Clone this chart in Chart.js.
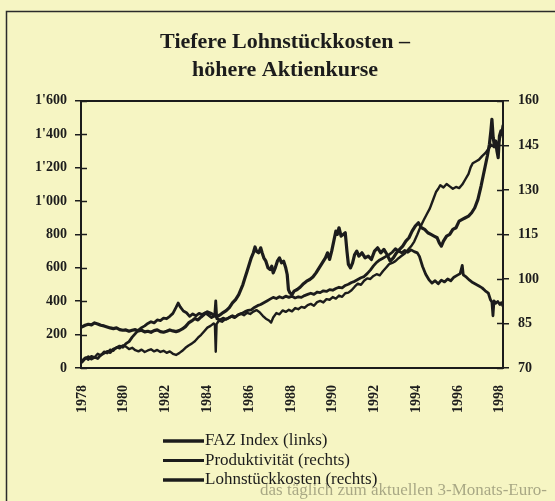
<!DOCTYPE html>
<html>
<head>
<meta charset="utf-8">
<script src="https://cdn.jsdelivr.net/npm/chart.js@4.4.1/dist/chart.umd.min.js"></script>
<style>
  html, body { margin: 0; padding: 0; background: #f6f5c3; }
  #wrap { width: 555px; height: 501px; }
</style>
</head>
<body>
<div id="wrap"><canvas id="myChart" width="555" height="501"></canvas></div>
<script>
// values (decimal years)
const yearTicks = [1978, 1980, 1982, 1984, 1986, 1988, 1990, 1992, 1994, 1996, 1998]

const fazYears = [1978.0, 1978.15, 1978.3, 1978.45, 1978.6, 1978.75, 1978.9, 1979.05, 1979.2, 1979.35, 1979.5, 1979.65, 1979.8, 1979.95,
  1980.1, 1980.25, 1980.4, 1980.55, 1980.7, 1980.85, 1981.0, 1981.15, 1981.3, 1981.45, 1981.6, 1981.75, 1981.9,
  1982.05, 1982.2, 1982.35, 1982.5, 1982.65, 1982.8, 1982.95, 1983.1, 1983.25, 1983.4, 1983.55, 1983.7, 1983.85,
  1984.0, 1984.15, 1984.3, 1984.45, 1984.6, 1984.75, 1984.9, 1985.05, 1985.2, 1985.35, 1985.5, 1985.6, 1985.7, 1985.8, 1985.9,
  1986.0, 1986.1, 1986.2, 1986.28, 1986.35, 1986.45, 1986.55, 1986.62, 1986.7, 1986.8, 1986.9,
  1987.0, 1987.08, 1987.15, 1987.25, 1987.35, 1987.45, 1987.55, 1987.65, 1987.75, 1987.82, 1987.88, 1987.95,
  1988.05, 1988.15, 1988.3, 1988.45, 1988.6, 1988.75, 1988.9, 1989.05, 1989.2, 1989.35, 1989.5, 1989.65, 1989.75, 1989.85, 1989.95,
  1990.05, 1990.15, 1990.22, 1990.3, 1990.4, 1990.5, 1990.6, 1990.68, 1990.75, 1990.85, 1990.95,
  1991.05, 1991.15, 1991.25, 1991.4, 1991.55, 1991.7, 1991.85, 1992.0, 1992.15, 1992.3, 1992.45, 1992.6, 1992.75, 1992.9,
  1993.05, 1993.2, 1993.35, 1993.5, 1993.65, 1993.8, 1993.95, 1994.1, 1994.25, 1994.4, 1994.55, 1994.7, 1994.85,
  1995.0, 1995.1, 1995.2, 1995.3, 1995.45, 1995.6, 1995.75, 1995.9, 1996.05, 1996.2, 1996.35, 1996.5, 1996.65, 1996.8, 1996.95,
  1997.1, 1997.2, 1997.3, 1997.4, 1997.5, 1997.57, 1997.62, 1997.68, 1997.74, 1997.8, 1997.86, 1997.92, 1997.98, 1998.05, 1998.1, 1998.15]
const fazValues = [246, 256, 262, 258, 270, 264, 256, 252, 246, 240, 236, 240, 230, 226,
  228, 220, 226, 230, 222, 226, 216, 220, 214, 224, 228, 218, 214,
  220, 228, 222, 218, 224, 234, 248, 270, 282, 296, 288, 306, 322,
  336, 328, 318, 306, 318, 332, 344, 362, 390, 410, 440, 470, 500, 540, 580,
  620, 660, 690, 725, 700, 690, 720, 690, 660, 640, 600,
  590, 610, 570, 600, 640, 660, 630, 640, 600, 560, 470, 450,
  440, 460, 470, 485, 505, 520, 530, 545, 570, 600, 630, 660, 690, 650, 700,
  760, 820, 800, 840, 790, 800, 810, 700, 620, 600, 630,
  680, 700, 670, 690, 660, 670, 650, 700, 720, 690, 710, 680, 640, 660,
  690, 710, 730, 760, 780, 820, 850, 870, 840, 830, 810, 800, 790,
  780, 750, 730, 760, 790, 800, 830, 840, 880, 890, 900, 910, 930, 960, 1010,
  1090, 1150, 1210, 1270, 1340, 1420, 1490, 1380, 1330, 1360, 1300, 1260, 1390, 1420, 1400, 1450]

const prodYears = [1978.0, 1978.15, 1978.3, 1978.45, 1978.6, 1978.75, 1978.9, 1979.05, 1979.2, 1979.35, 1979.5, 1979.65, 1979.8, 1979.95,
  1980.1, 1980.25, 1980.4, 1980.55, 1980.7, 1980.85, 1981.0, 1981.15, 1981.3, 1981.45, 1981.6, 1981.75, 1981.9,
  1982.05, 1982.2, 1982.35, 1982.5, 1982.65, 1982.8, 1982.95, 1983.1, 1983.25, 1983.4, 1983.55, 1983.7, 1983.85,
  1984.0, 1984.15, 1984.3, 1984.36, 1984.4, 1984.44, 1984.55, 1984.7, 1984.85, 1985.0, 1985.15, 1985.3, 1985.45, 1985.6, 1985.75, 1985.9,
  1986.05, 1986.2, 1986.35, 1986.5, 1986.65, 1986.8, 1986.95, 1987.05, 1987.15, 1987.3, 1987.45, 1987.6, 1987.75, 1987.9,
  1988.05, 1988.2, 1988.35, 1988.5, 1988.65, 1988.8, 1988.95, 1989.1, 1989.25, 1989.4, 1989.55, 1989.7, 1989.85,
  1990.0, 1990.15, 1990.3, 1990.45, 1990.6, 1990.75, 1990.9, 1991.05, 1991.2, 1991.35, 1991.5, 1991.65, 1991.8, 1991.95,
  1992.1, 1992.25, 1992.4, 1992.55, 1992.7, 1992.85, 1993.0, 1993.15, 1993.3, 1993.45, 1993.6, 1993.75, 1993.9,
  1994.05, 1994.2, 1994.35, 1994.5, 1994.65, 1994.8, 1994.95, 1995.05, 1995.15, 1995.3, 1995.45, 1995.6, 1995.75, 1995.9,
  1996.05, 1996.2, 1996.35, 1996.5, 1996.6, 1996.7, 1996.85, 1997.0, 1997.15, 1997.3, 1997.45, 1997.6, 1997.72, 1997.85, 1997.95, 1998.05, 1998.15]
const prodValues = [72.5, 73.5, 72.8, 74.0, 73.6, 74.8, 74.2, 75.5, 75.0, 76.2, 75.8, 77.0, 76.6, 77.6,
  77.2, 76.4, 76.8, 76.0, 75.6, 76.2, 75.4, 75.9, 76.3, 75.6, 76.1, 75.4, 75.8,
  75.1, 75.6, 74.8, 74.4, 75.0, 75.8, 76.8, 77.6, 78.2, 79.0, 80.2, 81.2, 82.4,
  83.6, 84.2, 85.0, 84.6, 75.5, 84.8, 86.0, 85.6, 86.4, 86.8, 87.4, 86.9, 87.9, 88.3, 87.8, 88.6,
  88.2, 89.0, 89.5, 88.8, 87.6, 86.6, 86.0, 85.3, 87.0, 88.5, 88.1, 89.4, 88.9, 89.6,
  89.1, 90.2, 89.8, 90.6, 90.3, 91.2, 91.6, 91.0, 92.2, 92.6, 92.1, 93.2, 93.0,
  93.9, 93.4, 94.4, 94.0, 95.2, 95.4, 96.2, 97.4, 98.4, 98.0, 99.4, 100.2, 100.0, 101.0,
  101.6, 101.2, 102.6, 103.8, 105.0, 105.4, 106.0, 107.0, 107.8, 108.6, 109.8, 111.0, 112.6,
  115.0, 117.6, 119.8, 121.8, 123.8, 126.6, 129.4, 130.4, 131.6, 130.8, 132.0, 131.2, 130.4, 131.0,
  130.6, 131.8, 133.6, 135.4, 137.6, 139.0, 139.6, 140.2, 141.4, 142.4, 143.8, 145.2, 144.4, 145.0, 146.2, 148.6, 150.0]

const lskYears = [1978.0, 1978.15, 1978.3, 1978.45, 1978.6, 1978.75, 1978.9, 1979.05, 1979.2, 1979.35, 1979.5, 1979.65, 1979.8, 1979.95,
  1980.1, 1980.25, 1980.4, 1980.55, 1980.7, 1980.85, 1981.0, 1981.15, 1981.3, 1981.45, 1981.6, 1981.75, 1981.9,
  1982.05, 1982.2, 1982.35, 1982.5, 1982.6, 1982.7, 1982.85, 1983.0, 1983.15, 1983.3, 1983.45, 1983.6, 1983.75, 1983.9,
  1984.05, 1984.2, 1984.35, 1984.4, 1984.45, 1984.6, 1984.75, 1984.9, 1985.05, 1985.2, 1985.35, 1985.5, 1985.65, 1985.8, 1985.95,
  1986.1, 1986.25, 1986.4, 1986.55, 1986.7, 1986.85, 1987.0, 1987.15, 1987.3, 1987.45, 1987.6, 1987.75, 1987.9,
  1988.05, 1988.2, 1988.35, 1988.5, 1988.65, 1988.8, 1988.95, 1989.1, 1989.25, 1989.4, 1989.55, 1989.7, 1989.85,
  1990.0, 1990.15, 1990.3, 1990.45, 1990.6, 1990.75, 1990.9, 1991.05, 1991.2, 1991.35, 1991.5, 1991.65, 1991.8, 1991.95,
  1992.1, 1992.25, 1992.4, 1992.55, 1992.7, 1992.85, 1993.0, 1993.15, 1993.3, 1993.45, 1993.6, 1993.75, 1993.9,
  1994.05, 1994.15, 1994.3, 1994.45, 1994.6, 1994.75, 1994.9, 1995.05, 1995.2, 1995.35, 1995.5, 1995.65, 1995.8, 1995.95,
  1996.1, 1996.2, 1996.25, 1996.4, 1996.55, 1996.7, 1996.85, 1997.0, 1997.15, 1997.3, 1997.45, 1997.55, 1997.62, 1997.67, 1997.72,
  1997.8, 1997.9, 1998.0, 1998.07, 1998.15]
const lskValues = [72.0, 73.2, 73.8, 73.0, 73.6, 73.2, 74.4, 75.0, 75.6, 75.2, 76.4, 76.8, 77.4, 77.0,
  78.2, 78.9, 80.4, 81.6, 82.8, 83.6, 84.2, 85.0, 85.6, 85.2, 86.2, 86.0, 86.8,
  86.6, 87.4, 88.4, 90.4, 91.9, 90.6, 89.2, 88.6, 87.4, 88.2, 87.6, 88.4, 88.0, 88.6,
  87.8, 87.0, 87.6, 92.6, 86.6, 86.2, 86.8, 86.4, 87.0, 87.6, 87.2, 88.0, 88.4, 89.0, 89.4,
  89.6, 90.4, 91.0, 91.4, 92.0, 92.6, 93.2, 93.8, 93.4, 94.0, 93.6, 94.2, 93.8,
  94.2, 93.6, 94.0, 93.8, 94.4, 94.8, 95.2, 94.8, 95.6, 95.4, 96.0, 95.8, 96.4,
  96.2, 96.8, 97.2, 97.0, 97.8, 98.2, 98.8, 99.2, 99.8, 100.4, 100.8, 101.8, 103.0, 104.4,
  105.6, 106.4, 107.0, 107.6, 108.2, 109.0, 110.2, 109.4, 108.8, 109.6, 109.0, 109.8, 109.2,
  108.8, 107.6, 104.2, 101.6, 99.8, 98.6, 99.4, 98.4, 99.6, 99.0, 100.0, 99.4, 100.6, 101.2,
  101.8, 104.6, 101.4, 100.6, 99.6, 98.8, 98.2, 97.6, 97.0, 96.0, 95.2, 93.0, 92.2, 87.6, 92.6,
  91.8, 92.4, 91.4, 92.0, 90.8]

const serif = "'Liberation Serif', 'DejaVu Serif', serif"
const ink = '#1c1c1c'
const paper = '#f6f5c3'

function pairs(xs, ys) {
    return xs.map((x, i) => ({x: x, y: ys[i]}))
}

function leftLabel(v) {
    if (v >= 1000) return Math.floor(v / 1000) + "'" + String(v % 1000).padStart(3, '0')
    return String(v)
}

// paper background, scan frame and faint show-through text
const paperPlugin = {
    id: 'paper',
    beforeDraw(chart) {
        const {ctx, width, height} = chart
        ctx.save()
        ctx.fillStyle = paper
        ctx.fillRect(0, 0, width, height)
        ctx.strokeStyle = '#2b2b2b'
        ctx.lineWidth = 1.5
        ctx.beginPath()
        ctx.moveTo(6.5, height)
        ctx.lineTo(6.5, 11.5)
        ctx.lineTo(width, 11.5)
        ctx.stroke()
        ctx.fillStyle = 'rgba(60, 60, 45, 0.42)'
        ctx.font = '17px ' + serif
        ctx.textBaseline = 'alphabetic'
        ctx.fillText('das täglich zum aktuellen 3-Monats-Euro-', 260, 495)
        ctx.restore()
    }
}

// top frame line, inner half of the axis ticks, and the stacked legend
const framePlugin = {
    id: 'frame',
    afterDraw(chart) {
        const {ctx, chartArea: a, scales} = chart
        ctx.save()
        ctx.strokeStyle = ink
        ctx.lineWidth = 2
        ctx.beginPath()
        ctx.moveTo(a.left, a.top)
        ctx.lineTo(a.right, a.top)
        ctx.stroke()
        ctx.lineWidth = 1.5
        for (let t of scales.y.ticks) {
            const py = Math.round(scales.y.getPixelForValue(t.value)) + 0.5
            ctx.beginPath()
            ctx.moveTo(a.left, py)
            ctx.lineTo(a.left + 6, py)
            ctx.stroke()
        }
        for (let t of scales.y2.ticks) {
            const py = Math.round(scales.y2.getPixelForValue(t.value)) + 0.5
            ctx.beginPath()
            ctx.moveTo(a.right - 6, py)
            ctx.lineTo(a.right, py)
            ctx.stroke()
        }
        // legend, one entry per row
        ctx.font = '17px ' + serif
        ctx.fillStyle = ink
        ctx.textBaseline = 'middle'
        chart.data.datasets.forEach((ds, i) => {
            const y = 441 + i * 19.5
            ctx.lineWidth = ds.borderWidth + 0.5
            ctx.beginPath()
            ctx.moveTo(163, y)
            ctx.lineTo(204, y)
            ctx.stroke()
            ctx.fillText(ds.label, 205, y)
        })
        ctx.restore()
    }
}

const lineStyle = {borderColor: ink, pointRadius: 0, tension: 0, borderJoinStyle: 'round', borderCapStyle: 'round', fill: false}

const ctx = document.getElementById('myChart')
new Chart(ctx, {
    type: 'line',
    data: {
        datasets: [{
            label: 'FAZ Index (links)',
            data: pairs(fazYears, fazValues),
            yAxisID: 'y',
            borderWidth: 3.2,
            ...lineStyle
        }, {
            label: 'Produktivität (rechts)',
            data: pairs(prodYears, prodValues),
            yAxisID: 'y2',
            borderWidth: 2.4,
            ...lineStyle
        }, {
            label: 'Lohnstückkosten (rechts)',
            data: pairs(lskYears, lskValues),
            yAxisID: 'y2',
            borderWidth: 2.8,
            ...lineStyle
        }]
    },
    options: {
        responsive: false,
        animation: false,
        layout: {padding: {left: 17, right: 2, top: 0, bottom: 83}},
        plugins: {
            legend: {display: false},
            tooltip: {enabled: false},
            title: {
                display: true,
                text: ['Tiefere Lohnstückkosten –', 'höhere Aktienkurse'],
                color: ink,
                font: {family: serif, size: 22, weight: 'bold', lineHeight: 1.27},
                padding: {top: 28, bottom: 17}
            }
        },
        scales: {
            x: {
                type: 'linear',
                min: 1977.95,
                max: 1998.15,
                afterBuildTicks: (axis) => { axis.ticks = yearTicks.map(v => ({value: v})) },
                afterFit: (scale) => { scale.height = 50 },
                ticks: {
                    autoSkip: false,
                    maxRotation: 90,
                    minRotation: 90,
                    padding: 17,
                    color: ink,
                    font: {family: serif, size: 14, weight: 'bold'},
                    callback: (v) => String(v)
                },
                grid: {display: false, drawTicks: false},
                border: {display: true, color: ink, width: 2}
            },
            y: {
                position: 'left',
                min: 0,
                max: 1600,
                afterFit: (scale) => { scale.width = 64 },
                ticks: {
                    stepSize: 200,
                    padding: 8,
                    color: ink,
                    font: {family: serif, size: 14, weight: 'bold'},
                    callback: (v) => leftLabel(v)
                },
                grid: {drawOnChartArea: false, drawTicks: true, tickLength: 6, color: ink, lineWidth: 1.5},
                border: {display: true, color: ink, width: 2}
            },
            y2: {
                position: 'right',
                min: 70,
                max: 160,
                afterFit: (scale) => { scale.width = 50 },
                ticks: {
                    stepSize: 15,
                    padding: 9,
                    color: ink,
                    font: {family: serif, size: 14, weight: 'bold'}
                },
                grid: {drawOnChartArea: false, drawTicks: true, tickLength: 6, color: ink, lineWidth: 1.5},
                border: {display: true, color: ink, width: 2}
            }
        }
    },
    plugins: [paperPlugin, framePlugin]
})
</script>
</body>
</html>
